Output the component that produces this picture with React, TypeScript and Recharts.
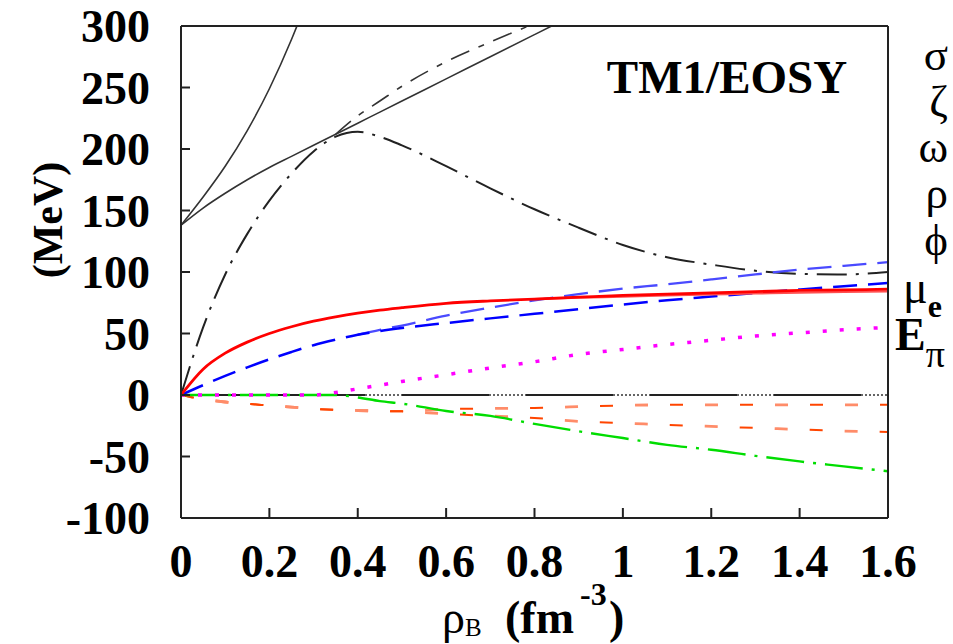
import React from 'react';
import { LineChart, Line, XAxis, YAxis, ReferenceLine } from 'recharts';

// baryon density grid (fm^-3)
const rho = [0, 0.05, 0.1, 0.15, 0.2, 0.25, 0.3, 0.35, 0.4, 0.45, 0.5, 0.6, 0.7, 0.8, 0.9, 1.0, 1.1, 1.2, 1.3, 1.4, 1.5, 1.6];

// black curves (MeV)
const steepSolid = [138, 161, 186, 215, 249, 289, 335, null, null, null, null, null, null, null, null, null, null, null, null, null, null, null];
const flatSolid = [138, 152, 164, 175, 185, 194, 203, 212, 221, 230, 239, 257, 275, 293, 311, null, null, null, null, null, null, null];
const peakDashDot = [0, 55, 98, 131, 158, 180, 198, 210, 214, 210, 203, 186, 168, 151, 136, 122, 112, 106, 101, 98.5, 98, 100];
const riseDashDot = [null, null, null, null, null, null, null, 212, 227, 239, 251, 271, 287, 302, null, null, null, null, null, null, null, null];

// coloured curves (MeV)
const muE = [0, 21, 34, 43, 50, 55.5, 60, 63.5, 66.5, 69, 71, 74.5, 76.5, 78, 79.5, 81, 82, 83, 84, 85, 85.5, 86];
const muE2 = [null, null, null, null, null, null, null, null, null, null, null, null, null, 78, 79.2, 80, 81, 81.8, 82.5, 83.2, 83.8, 84.3];
const blueLow = [0, 8, 15.5, 22.5, 29, 35, 40.5, 45, 49, 52, 54.5, 58.5, 62.3, 66, 69.8, 73.5, 77, 80, 83, 85.8, 88.5, 91];
const blueHigh = [null, null, null, null, null, null, null, null, 49, 53, 56.5, 64.5, 71, 77, 82, 86.5, 90, 94, 98, 102, 105, 108];
const ePion = [0, 0, 0, 0, 0, 0, 0, 2, 5, 8, 11, 16.5, 22, 27, 33, 37, 41, 44.5, 48, 50.5, 53, 55];
const greenDD = [0, 0, 0, 0, 0, 0, 0, 0, -2, -5, -7, -13, -17, -23.5, -29.5, -35, -40.5, -44.5, -49.5, -54, -58, -62];
const orangeUp = [0, -3.5, -5.7, -7.2, -8.5, -9.8, -11.2, -12, -12.6, -13, -13.3, -11.5, -11, -10.5, -9.5, -8.5, -8, -8, -8, -8, -8, -8];
const orangeLow = [0, -3.5, -5.7, -7.2, -8.5, -9.8, -11.2, -12, -12.6, -13, -13.3, -15.4, -17, -18.7, -21.5, -22.8, -24.3, -25.5, -26.8, -28, -29.3, -30];

const xTicks = [0, 0.2, 0.4, 0.6, 0.8, 1, 1.2, 1.4, 1.6];
const yTicks = [-100, -50, 0, 50, 100, 150, 200, 250, 300];

const data = rho.map((r, i) => ({
  rho: r,
  steepSolid: steepSolid[i],
  flatSolid: flatSolid[i],
  peakDashDot: peakDashDot[i],
  riseDashDot: riseDashDot[i],
  muE: muE[i],
  muE2: muE2[i],
  blueLow: blueLow[i],
  blueHigh: blueHigh[i],
  ePion: ePion[i],
  greenDD: greenDD[i],
  orangeUp: orangeUp[i],
  orangeLow: orangeLow[i],
}));

const serif = '"Liberation Serif", "Times New Roman", serif';
const frame = { stroke: '#222', strokeWidth: 2 };

const XTick = ({ x, y, payload }: any) => (
  <text x={x} y={y} dy={59} textAnchor="middle" fontFamily={serif} fontWeight="bold" fontSize={46} fill="#000">
    {payload.value}
  </text>
);

const YTick = ({ x, y, payload }: any) => (
  <text x={x} y={y} dy={16} textAnchor="end" fontFamily={serif} fontWeight="bold" fontSize={46} fill="#000">
    {payload.value}
  </text>
);

export default function App() {
  const common = { type: 'monotone' as const, dot: false, activeDot: false, isAnimationActive: false };
  return (
    <div style={{ position: 'absolute', left: 0, top: 0, width: 953, height: 644, background: '#fff' }}>
      <LineChart width={953} height={644} data={data} margin={{ top: 25, right: 64, left: 81, bottom: 66 }}>
        <XAxis
          dataKey="rho"
          type="number"
          domain={[0, 1.6]}
          ticks={xTicks}
          interval={0}
          allowDataOverflow
          height={60}
          axisLine={frame}
          tickLine={frame}
          tickSize={-10}
          tickMargin={10}
          tick={<XTick />}
        />
        <XAxis
          xAxisId="top"
          orientation="top"
          dataKey="rho"
          type="number"
          domain={[0, 1.6]}
          ticks={xTicks}
          interval={0}
          height={1}
          axisLine={frame}
          tickLine={frame}
          tickSize={-10}
          tick={false}
        />
        <YAxis
          type="number"
          domain={[-100, 300]}
          ticks={yTicks}
          interval={0}
          allowDataOverflow
          width={100}
          axisLine={frame}
          tickLine={frame}
          tickSize={-9}
          tickMargin={40}
          tick={<YTick />}
        />
        <YAxis
          yAxisId="right"
          orientation="right"
          type="number"
          domain={[-100, 300]}
          ticks={yTicks}
          interval={0}
          width={1}
          axisLine={frame}
          tickLine={frame}
          tickSize={-9}
          tick={false}
        />
        <ReferenceLine y={0} stroke="#333" strokeWidth={1.5} strokeDasharray="2 2" />
        <ReferenceLine y={0} stroke="#222" strokeWidth={2.2} strokeDasharray="87 37" strokeDashoffset={27} />

        <Line {...common} dataKey="steepSolid" stroke="#333" strokeWidth={1.6} />
        <Line {...common} dataKey="flatSolid" stroke="#333" strokeWidth={1.6} />
        <Line {...common} dataKey="peakDashDot" stroke="#222" strokeWidth={2} strokeDasharray="30 9 3 9" />
        <Line {...common} dataKey="riseDashDot" stroke="#333" strokeWidth={1.6} strokeDasharray="20 10 6 10" />

        <Line {...common} dataKey="orangeUp" stroke="#ff8c69" strokeWidth={2.8} strokeDasharray="13 57" strokeDashoffset={35} />
        <Line {...common} dataKey="orangeUp" stroke="#ff4500" strokeWidth={2} strokeDasharray="13 57" />
        <Line {...common} dataKey="orangeLow" stroke="#ff8c69" strokeWidth={2.8} strokeDasharray="13 57" strokeDashoffset={35} />
        <Line {...common} dataKey="orangeLow" stroke="#ff4500" strokeWidth={2} strokeDasharray="13 57" />
        <Line {...common} dataKey="greenDD" stroke="#00dd00" strokeWidth={2.4} strokeDasharray="38 9 3 9" />
        <Line {...common} dataKey="ePion" stroke="#ff00ff" strokeWidth={3.5} strokeDasharray="4 13" />
        <Line {...common} dataKey="blueHigh" stroke="#4a4aff" strokeWidth={2.3} strokeDasharray="24 11" />
        <Line {...common} dataKey="blueLow" stroke="#0000ff" strokeWidth={2.5} strokeDasharray="24 11" />
        <Line {...common} dataKey="muE2" stroke="#ff5050" strokeWidth={2.2} />
        <Line {...common} dataKey="muE" stroke="#ff0000" strokeWidth={2.8} />
      </LineChart>

      <svg width={953} height={644} style={{ position: 'absolute', left: 0, top: 0, pointerEvents: 'none' }} fontFamily={serif} fill="#000">
        <text x={727} y={93} textAnchor="middle" fontWeight="bold" fontSize={47}>TM1/EOSY</text>

        <text x={948} y={70} textAnchor="end" fontSize={45}>σ</text>
        <text x={948} y={116} textAnchor="end" fontSize={45}>ζ</text>
        <text x={948} y={162} textAnchor="end" fontSize={45}>ω</text>
        <text x={948} y={208} textAnchor="end" fontSize={45}>ρ</text>
        <text x={948} y={255} textAnchor="end" fontSize={45}>ϕ</text>
        <text x={903} y={303} fontSize={46}>μ<tspan fontWeight="bold" fontSize={32} dy={14}>e</tspan></text>
        <text x={895} y={350} fontSize={46} fontWeight="bold">E<tspan fontWeight="normal" fontSize={38} dy={17}>π</tspan></text>

        <text transform="translate(62,220) rotate(-90)" textAnchor="middle" fontWeight="bold" fontSize={42}>(MeV)</text>

        <text x={442} y={633} fontSize={46}>ρ<tspan fontSize={25} dy={3}>B</tspan></text>
        <text x={505} y={633} fontSize={46} fontWeight="bold">(fm</text>
        <text x={580} y={605} fontSize={32} fontWeight="bold">-3</text>
        <text x={609} y={633} fontSize={46} fontWeight="bold">)</text>
      </svg>
    </div>
  );
}
